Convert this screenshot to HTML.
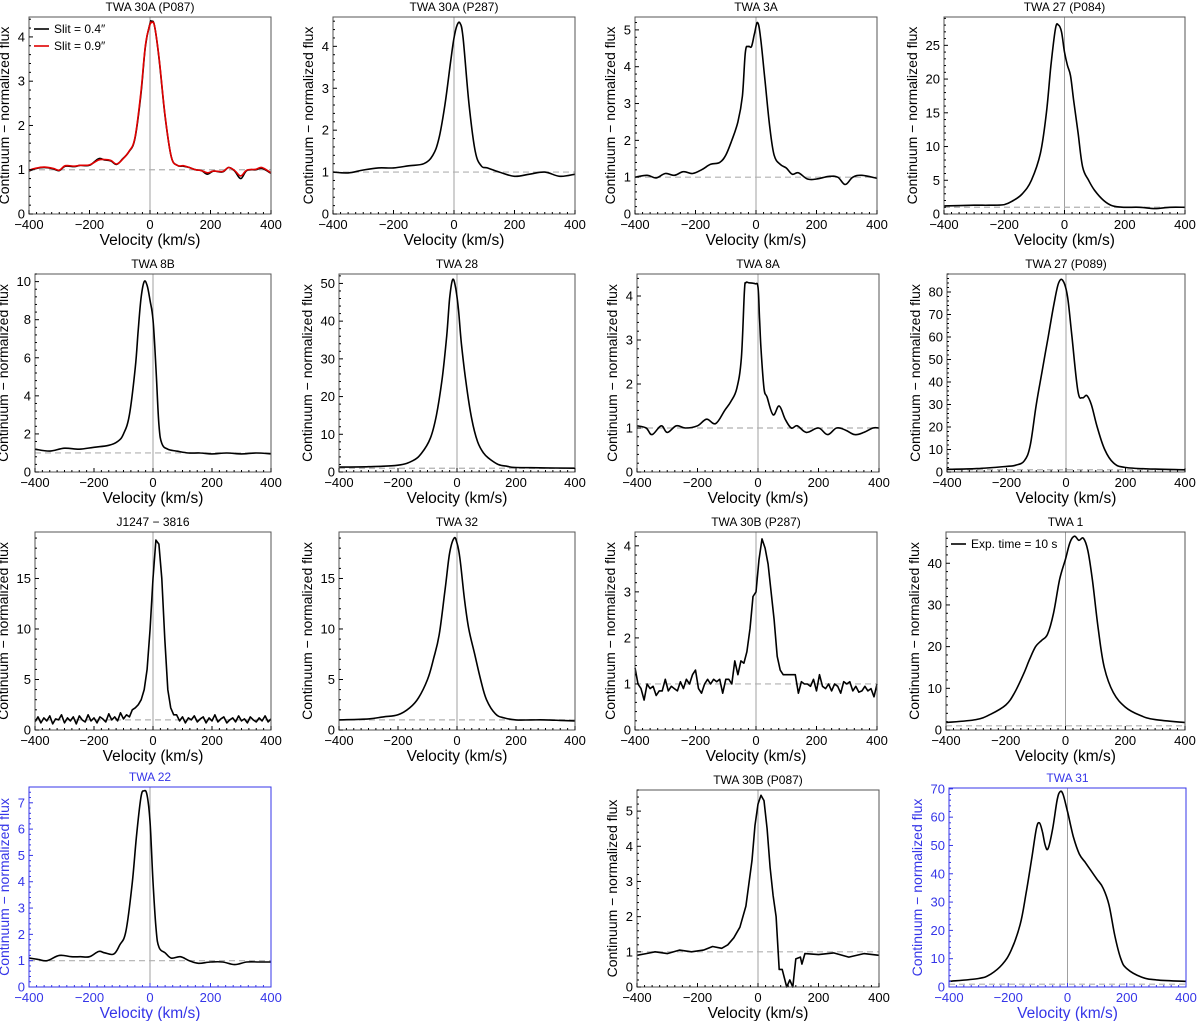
<!DOCTYPE html>
<html><head><meta charset="utf-8"><style>
body{margin:0;background:#fff}
svg{display:block;font-family:"Liberation Sans","DejaVu Sans",sans-serif}
</style></head><body>
<svg id="fig" width="1200" height="1021" viewBox="0 0 1200 1021" xmlns="http://www.w3.org/2000/svg"></svg>
<script>
// ---- data (velocity in km/s, flux = continuum-normalized) ----
const v1=[-400,-380,-350,-320,-300,-280,-250,-230,-200,-170,-150,-130,-110,-90,-70,-50,-30,-15,0,5,15,30,50,70,90,110,130,150,170,190,210,240,260,280,300,320,350,370,400];
const f1a=[0.97,1.02,1.05,1.02,0.98,1.08,1.07,1.1,1.1,1.25,1.22,1.2,1.12,1.25,1.4,1.7,2.7,3.8,4.3,4.35,4.25,3.5,2.2,1.3,1.1,1.08,1.05,1.0,0.98,0.9,0.97,0.95,1.05,0.97,0.8,0.98,1.0,1.03,0.92];
const f1b=[0.99,1.03,1.06,1.03,0.99,1.09,1.08,1.1,1.11,1.22,1.23,1.21,1.13,1.24,1.41,1.72,2.75,3.82,4.28,4.32,4.25,3.52,2.22,1.3,1.1,1.09,1.05,1.0,0.98,0.93,0.97,0.96,1.05,0.98,0.86,0.99,1.01,1.05,0.93];
const v2=[-400,-350,-300,-250,-200,-150,-100,-70,-50,-30,-10,0,10,20,30,50,70,90,110,150,200,250,300,350,400];
const f2=[1.0,0.98,1.05,1.1,1.1,1.15,1.2,1.4,1.8,2.6,3.7,4.2,4.5,4.55,4.2,2.6,1.5,1.15,1.1,1.0,0.9,0.95,1.0,0.9,0.95];
const v3=[-400,-360,-330,-300,-270,-240,-210,-180,-150,-120,-100,-80,-60,-45,-35,-25,-15,-5,5,15,30,45,60,80,100,120,140,170,200,240,270,295,320,350,400];
const f3=[1.0,1.05,0.98,1.1,1.05,1.15,1.1,1.2,1.35,1.4,1.6,2.0,2.5,3.2,4.4,4.55,4.55,4.9,5.2,4.8,3.6,2.4,1.6,1.35,1.25,1.08,1.12,0.95,0.95,1.02,1.0,0.8,1.0,1.05,0.97];
const v4=[-400,-300,-250,-200,-170,-140,-110,-80,-60,-45,-30,-20,-10,0,10,20,30,45,60,80,100,130,160,200,250,300,350,400];
const f4=[1.2,1.3,1.3,1.4,2,3,5,9,15,22,27.5,28,27,24,22,20.5,17,12,7,5,3.5,2,1.2,1,1,0.8,1,1];
const v5=[-400,-350,-300,-250,-200,-150,-120,-100,-80,-60,-50,-40,-30,-20,-10,0,10,20,30,50,80,120,160,200,250,300,350,400];
const f5=[1.2,1.1,1.25,1.2,1.3,1.4,1.6,2,3,5.5,7.5,9.2,10,9.8,9,8,5.5,2.5,1.5,1.2,1.1,1.0,1.0,0.95,1.0,0.95,1.0,0.95];
const v6=[-400,-300,-200,-150,-120,-90,-70,-50,-35,-25,-15,-5,5,15,30,50,70,90,110,140,170,200,300,400];
const f6=[1.3,1.4,1.8,3,5,9,15,25,36,46,51,49,43,34,24,14,8,5,3.5,2,1.5,1.2,1.1,1.0];
const v7=[-400,-370,-350,-320,-300,-270,-240,-200,-170,-140,-110,-90,-70,-55,-45,-40,-30,-10,0,5,10,20,30,50,70,90,110,130,160,200,230,260,290,320,350,380,400];
const f7=[1.05,1.0,0.85,1.05,0.9,1.05,1.0,1.05,1.2,1.1,1.4,1.6,1.9,2.6,4.1,4.3,4.3,4.28,4.2,3.5,2.8,1.9,1.7,1.3,1.5,1.2,1.0,1.05,0.9,1.0,0.85,1.0,0.95,0.85,0.9,1.0,1.0];
const v8=[-400,-300,-200,-170,-140,-120,-100,-80,-60,-40,-25,-10,5,20,40,55,70,85,105,130,160,200,300,400];
const f8=[1.2,1.5,2.5,3,5,12,30,45,60,75,84,85,78,60,36,33,34,30,20,10,4,2,1.3,1.0];
const v9=[-400,-390,-380,-370,-360,-350,-340,-330,-320,-310,-300,-290,-280,-270,-260,-250,-240,-230,-220,-210,-200,-190,-180,-170,-160,-150,-140,-130,-120,-110,-100,-90,-80,-70,-60,-50,-40,-30,-20,-10,0,10,20,30,40,50,60,70,80,90,100,110,120,130,140,150,160,170,180,190,200,210,220,230,240,250,260,270,280,290,300,310,320,330,340,350,360,370,380,390,400];
const f9=[0.8,1.3,0.7,1.2,0.9,1.4,0.6,1.1,1.0,1.5,0.7,1.2,0.9,1.3,0.6,1.4,1.0,0.8,1.5,0.9,1.2,0.7,1.3,1.1,0.8,1.6,1.0,1.3,0.9,1.7,1.1,1.5,1.3,2.0,2.2,2.5,3.0,4.0,6.0,10,15,18.8,18.4,15,9,4,2.2,1.5,1.5,0.9,1.3,0.7,1.2,1.0,1.4,0.8,1.1,1.3,0.7,1.2,0.9,1.5,0.8,1.1,1.3,0.7,1.0,1.2,0.8,1.4,0.9,1.1,0.7,1.3,1.0,0.8,1.2,0.9,1.4,0.8,1.1];
const v10=[-400,-300,-250,-200,-160,-130,-100,-80,-60,-40,-25,-10,0,10,25,40,60,80,100,130,160,200,250,300,350,400];
const f10=[1.0,1.1,1.3,1.5,2.2,3.2,5,7,9.5,14,17.5,19,18.5,17,13,10,7.5,5,3,1.6,1.2,1.0,1.0,1.0,0.95,0.9];
const v11=v9;
const f11=[1.35,1.0,0.9,0.65,1.0,0.9,0.95,0.75,0.85,0.85,1.1,0.85,0.95,0.9,0.85,1.05,0.9,1.1,1.0,1.2,1.3,0.9,0.8,1.0,1.1,1.0,1.1,1.05,1.1,0.8,1.1,1.1,1.0,1.5,1.2,1.5,1.45,1.7,2.2,2.9,3.0,3.7,4.15,3.95,3.6,3.0,2.4,1.6,1.3,1.2,1.2,1.2,1.2,1.2,0.8,1.05,1.0,1.0,0.95,1.1,0.85,1.2,0.95,0.9,1.0,0.85,1.0,0.95,0.8,1.05,1.0,1.05,0.85,0.95,0.82,0.85,0.95,0.85,0.9,0.72,1.0];
const v12=[-400,-300,-250,-200,-170,-140,-120,-100,-80,-60,-40,-20,0,15,30,45,60,75,90,110,130,160,200,250,300,400];
const f12=[1.8,2.5,3.8,6,9,13.5,17,20,21.5,23,28,36,41,45,46.5,45.5,46,43,36,24,15,9,5.5,3.5,2.5,1.8];
const v13=[-400,-370,-340,-300,-260,-230,-200,-170,-150,-120,-100,-80,-60,-45,-30,-20,-10,0,10,20,30,50,70,100,130,160,200,240,280,320,360,400];
const f13=[1.1,1.05,1.0,1.2,1.15,1.15,1.15,1.35,1.3,1.25,1.6,2.1,3.8,5.7,7.2,7.45,7.3,6.3,4,2.2,1.5,1.3,1.1,1.15,1.0,0.9,0.95,0.95,0.85,0.95,0.95,0.95];
const v14=[-400,-370,-340,-300,-260,-220,-180,-150,-120,-100,-80,-60,-40,-20,-10,0,10,20,30,40,50,60,70,80,95,105,115,125,140,145,155,200,250,300,350,400];
const f14=[0.9,0.95,1.0,0.95,1.05,1.0,1.05,1.15,1.1,1.2,1.4,1.7,2.3,3.6,4.6,5.2,5.45,5.3,4.5,3.4,2.6,2.0,0.5,0.5,0.0,0.2,0.0,0.8,0.85,0.65,0.95,0.92,0.97,0.85,0.95,0.9];
const v15=[-400,-300,-260,-220,-190,-160,-140,-120,-105,-95,-85,-75,-65,-50,-35,-25,-15,0,20,40,60,80,100,120,140,160,180,200,250,300,400];
const f15=[2,3,4.5,8,13,22,33,46,56,58,55,50,49,56,66,69,68,62,53,47,44,41,38,35,29,18,10,6.5,3.5,2.5,2];

const xTicks=[-400,-200,0,200,400];
const xTickLabels=['\u2212400','\u2212200','0','200','400'];

const BLUE='#3535e8';
const panels=[
 {name:'twa-30a-p087',title:'TWA 30A (P087)',x0:29,x1:271,y0:17,y1:214,ymax:4.45,step:1,minor:0.2,series:[[v1,f1a,'#000'],[v1,f1b,'#e00000']],legend:['Slit = 0.4\u2033','Slit = 0.9\u2033']},
 {name:'twa-30a-p287',title:'TWA 30A (P287)',x0:333,x1:575,y0:17,y1:214,ymax:4.7,step:1,minor:0.2,series:[[v2,f2,'#000']]},
 {name:'twa-3a',title:'TWA 3A',x0:635,x1:877,y0:17,y1:214,ymax:5.35,step:1,minor:0.2,series:[[v3,f3,'#000']]},
 {name:'twa-27-p084',title:'TWA 27 (P084)',x0:944,x1:1185,y0:17,y1:214,ymax:29.2,step:5,minor:1,series:[[v4,f4,'#000']]},
 {name:'twa-8b',title:'TWA 8B',x0:35,x1:271,y0:274,y1:472,ymax:10.4,step:2,minor:0.4,series:[[v5,f5,'#000']]},
 {name:'twa-28',title:'TWA 28',x0:339,x1:575,y0:274,y1:472,ymax:52.5,step:10,minor:2,series:[[v6,f6,'#000']]},
 {name:'twa-8a',title:'TWA 8A',x0:637,x1:879,y0:274,y1:472,ymax:4.5,step:1,minor:0.2,series:[[v7,f7,'#000']]},
 {name:'twa-27-p089',title:'TWA 27 (P089)',x0:947,x1:1185,y0:274,y1:472,ymax:88,step:10,minor:2,series:[[v8,f8,'#000']]},
 {name:'j1247-3816',title:'J1247 \u2212 3816',x0:35,x1:271,y0:532,y1:730,ymax:19.6,step:5,minor:1,noisy:true,series:[[v9,f9,'#000']]},
 {name:'twa-32',title:'TWA 32',x0:339,x1:575,y0:532,y1:730,ymax:19.6,step:5,minor:1,series:[[v10,f10,'#000']]},
 {name:'twa-30b-p287',title:'TWA 30B (P287)',x0:635,x1:877,y0:532,y1:730,ymax:4.3,step:1,minor:0.2,noisy:true,series:[[v11,f11,'#000']]},
 {name:'twa-1',title:'TWA 1',x0:946,x1:1185,y0:532,y1:730,ymax:47.5,step:10,minor:2,series:[[v12,f12,'#000']],legend:['Exp. time = 10 s']},
 {name:'twa-22',title:'TWA 22',x0:29,x1:271,y0:787,y1:987,ymax:7.6,step:1,minor:0.2,color:BLUE,series:[[v13,f13,'#000']]},
 {name:'twa-30b-p087',title:'TWA 30B (P087)',x0:637,x1:879,y0:790,y1:987,ymax:5.6,step:1,minor:0.2,noisy:true,series:[[v14,f14,'#000']]},
 {name:'twa-31',title:'TWA 31',x0:949,x1:1186,y0:788,y1:987,ymax:70.3,step:10,minor:2,color:BLUE,series:[[v15,f15,'#000']]}
];

const NS='http://www.w3.org/2000/svg';
const svg=document.getElementById('fig');
function mk(tag,attrs,parent){const e=document.createElementNS(NS,tag);for(const k in attrs)e.setAttribute(k,attrs[k]);(parent||svg).appendChild(e);return e;}
function smoothPath(pts){
 let d='M'+pts[0][0].toFixed(1)+','+pts[0][1].toFixed(1);
 for(let i=0;i<pts.length-1;i++){
  const p0=pts[Math.max(0,i-1)],p1=pts[i],p2=pts[i+1],p3=pts[Math.min(pts.length-1,i+2)];
  const t=0.18;
  const c1=[p1[0]+(p2[0]-p0[0])*t,p1[1]+(p2[1]-p0[1])*t];
  const c2=[p2[0]-(p3[0]-p1[0])*t,p2[1]-(p3[1]-p1[1])*t];
  d+='C'+c1[0].toFixed(1)+','+c1[1].toFixed(1)+' '+c2[0].toFixed(1)+','+c2[1].toFixed(1)+' '+p2[0].toFixed(1)+','+p2[1].toFixed(1);
 }
 return d;
}

panels.forEach(p=>{
 const c=p.color||'#000';
 const g=mk('g',{});
 
 
 const sx=v=>p.x0+(v+400)/800*(p.x1-p.x0);
 const sy=f=>p.y1-f/p.ymax*(p.y1-p.y0);
 const vl=mk('line',{x1:sx(0),x2:sx(0),y1:p.y0,y2:p.y1,stroke:'#a0a0a0','stroke-width':1},g);
 
 
 const hl=mk('line',{x1:p.x0,x2:p.x1,y1:sy(1),y2:sy(1),stroke:'#b0b0b0','stroke-width':1.2,'stroke-dasharray':'6,4'},g);
 
 
 p.series.forEach((s,i)=>{
  const pts=s[0].map((v,j)=>[sx(v),sy(s[1][j])]);
  const d=p.noisy?pts.map((q,j)=>(j?'L':'M')+q[0].toFixed(1)+','+q[1].toFixed(1)).join(''):smoothPath(pts);
  const pa=mk('path',{d:d,fill:'none',stroke:s[2],'stroke-width':1.6,'stroke-linejoin':'round'},g);
  
  
 });
 const fr=mk('rect',{x:p.x0,y:p.y0,width:p.x1-p.x0,height:p.y1-p.y0,fill:'none',stroke:p.color?c:'#555','stroke-width':1},g);
 
 
 for(let v=-400;v<=400;v+=25){
  const maj=xTicks.includes(v);
  mk('line',{x1:sx(v),x2:sx(v),y1:p.y1,y2:p.y1-(maj?4:2),stroke:c,'stroke-width':1},g);
 }
 xTicks.forEach((v,i)=>{
  const t=mk('text',{x:sx(v),y:p.y1+15,'text-anchor':'middle','font-size':13,fill:c},g);
  t.textContent=xTickLabels[i];
  
  
 });
 for(let f=0;f<=p.ymax+1e-9;f+=p.minor){
  const r=Math.round(f/p.step*1000)/1000;const maj=Math.abs(r-Math.round(r))<1e-6;
  mk('line',{x1:p.x0,x2:p.x0+(maj?4:2),y1:sy(f),y2:sy(f),stroke:c,'stroke-width':1},g);
 }
 for(let f=0;f<=p.ymax+1e-9;f+=p.step){
  const t=mk('text',{x:p.x0-4,y:sy(f)+4.5,'text-anchor':'end','font-size':13,fill:c},g);
  t.textContent=String(Math.round(f));
  
  
 }
 const xl=mk('text',{x:(p.x0+p.x1)/2,y:p.y1+31,'text-anchor':'middle','font-size':15.5,fill:c},g);
 xl.textContent='Velocity (km/s)';
 
 
 const lx=p.x0-(p.ymax>=10?27:20);const ly=(p.y0+p.y1)/2;
 const yl=mk('text',{x:lx,y:ly,'text-anchor':'middle','font-size':14,fill:c,transform:'rotate(-90 '+lx+' '+ly+')'},g);
 yl.textContent='Continuum \u2212 normalized flux';
 
 
 const ti=mk('text',{x:(p.x0+p.x1)/2,y:p.y0-6,'text-anchor':'middle','font-size':12,fill:c},g);
 ti.textContent=p.title;
 
 
 if(p.legend){
  p.legend.forEach((lab,i)=>{
   const yy=p.y0+12+i*17;
   mk('line',{x1:p.x0+5,x2:p.x0+20,y1:yy,y2:yy,stroke:p.series[i][2],'stroke-width':1.6},g);
   const lt=mk('text',{x:p.x0+25,y:yy+4,'font-size':12,fill:'#000'},g);
   lt.textContent=lab;
   
   
  });
 }
});
</script>
</body></html>
